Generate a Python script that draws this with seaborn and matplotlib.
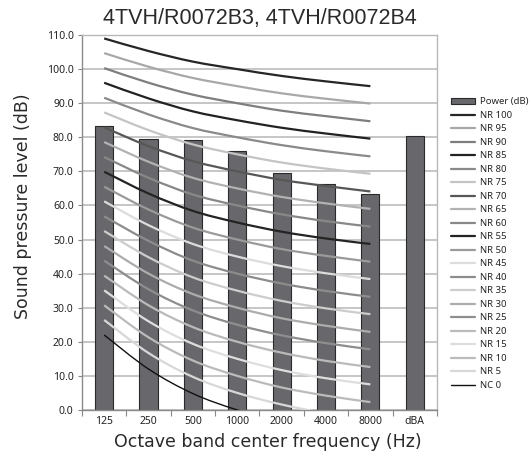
import numpy as np
import pandas as pd
import matplotlib
matplotlib.use("Agg")
import matplotlib.pyplot as plt
import seaborn as sns
from matplotlib.lines import Line2D
from matplotlib.patches import Patch, PathPatch
from matplotlib.path import Path

# ---- data ----
categories = ["125", "250", "500", "1000", "2000", "4000", "8000", "dBA"]
power_db = [83.3, 79.5, 79.2, 75.9, 69.4, 66.3, 63.5, 80.5]

band_labels = ["125", "250", "500", "1000", "2000", "4000", "8000"]
nr100 = [109.0, 105.3, 102.2, 100.0, 98.0, 96.4, 95.0]
nr95 = [104.7, 100.7, 97.4, 95.0, 92.9, 91.3, 89.9]
nr90 = [100.3, 96.0, 92.5, 90.0, 87.8, 86.2, 84.7]
nr85 = [96.0, 91.4, 87.6, 85.0, 82.8, 81.1, 79.6]
nr80 = [91.6, 86.7, 82.7, 80.0, 77.7, 75.9, 74.4]
nr75 = [87.3, 82.1, 77.9, 75.0, 72.6, 70.8, 69.3]
nr70 = [82.9, 77.4, 73.0, 70.0, 67.5, 65.7, 64.1]
nr65 = [78.6, 72.8, 68.1, 65.0, 62.5, 60.6, 59.0]
nr60 = [74.2, 68.1, 63.2, 60.0, 57.4, 55.4, 53.8]
nr55 = [69.9, 63.5, 58.4, 55.0, 52.3, 50.3, 48.7]
nr50 = [65.5, 58.8, 53.5, 50.0, 47.2, 45.2, 43.5]
nr45 = [61.2, 54.2, 48.7, 45.0, 42.2, 40.1, 38.4]
nr40 = [56.8, 49.6, 43.8, 40.0, 37.1, 34.9, 33.2]
nr35 = [52.5, 44.8, 38.9, 35.0, 32.0, 29.8, 28.1]
nr30 = [48.1, 40.0, 34.0, 30.0, 26.9, 24.7, 22.9]
nr25 = [43.8, 35.4, 29.2, 25.0, 21.9, 19.6, 17.8]
nr20 = [39.4, 30.7, 24.3, 20.0, 16.8, 14.4, 12.6]
nr15 = [35.1, 26.0, 19.4, 15.0, 11.7, 9.3, 7.5]
nr10 = [30.7, 21.3, 14.5, 10.0, 6.6, 4.2, 2.3]
nr5 = [26.4, 16.7, 9.7, 5.0, 1.6, -1.0, -2.9]
nc0 = [22.0, 12.0, 4.8, 0.0, -3.5, -6.1, -8.0]

curve_names = ["NR 100", "NR 95", "NR 90", "NR 85", "NR 80", "NR 75", "NR 70",
               "NR 65", "NR 60", "NR 55", "NR 50", "NR 45", "NR 40", "NR 35",
               "NR 30", "NR 25", "NR 20", "NR 15", "NR 10", "NR 5", "NC 0"]
curve_values = [nr100, nr95, nr90, nr85, nr80, nr75, nr70, nr65, nr60, nr55,
                nr50, nr45, nr40, nr35, nr30, nr25, nr20, nr15, nr10, nr5, nc0]
curve_colors = ["#262626", "#a8a8a8", "#7e7e7e", "#222222", "#8a8a8a", "#c4c4c4",
                "#575757", "#b2b2b2", "#888888", "#242424", "#9a9a9a", "#dcdcdc",
                "#8c8c8c", "#cdcdcd", "#acacac", "#8e8e8e", "#bababa", "#dedede",
                "#bbbbbb", "#d8d8d8", "#111111"]


def smooth_path(xs, ys):
    """Smoothed (Catmull-Rom style Bezier) path through the data points."""
    pts = np.column_stack([xs, ys]).astype(float)
    n = len(pts)
    verts = [pts[0]]
    codes = [Path.MOVETO]
    for i in range(n - 1):
        p0 = pts[i - 1] if i > 0 else pts[i]
        p1 = pts[i]
        p2 = pts[i + 1]
        p3 = pts[i + 2] if i + 2 < n else pts[i + 1]
        verts += [p1 + (p2 - p0) / 6.0, p2 - (p3 - p1) / 6.0, p2]
        codes += [Path.CURVE4] * 3
    return Path(verts, codes)


# ---- figure ----
sns.set_theme(style="white")
plt.rcParams['font.family'] = ['DejaVu Sans']
fig = plt.figure(figsize=(5.29, 4.55), dpi=100)
ax = fig.add_axes([0.155, 0.099, 0.671, 0.824])

df_bar = pd.DataFrame({"band": categories, "power": power_db})
sns.barplot(data=df_bar, x="band", y="power", order=categories, color="#68686c",
            saturation=1, width=0.41, edgecolor="#2a2a2a", linewidth=0.8, ax=ax, zorder=2)

line_handles = []
xpos = [categories.index(b) for b in band_labels]
for name, vals, col in zip(curve_names, curve_values, curve_colors):
    lw = 1.0 if name == "NC 0" else 1.6
    patch = PathPatch(smooth_path(xpos, vals), facecolor="none", edgecolor=col,
                      linewidth=lw, zorder=3, capstyle="butt", joinstyle="round")
    ax.add_patch(patch)
    line_handles.append(Line2D([0], [0], color=col, linewidth=lw))

ax.set_xlim(-0.5, len(categories) - 0.5)
ax.set_ylim(0, 110)
ax.set_yticks(np.arange(0, 111, 10))
ax.set_yticklabels([f"{v:.1f}" for v in np.arange(0, 111, 10)],
                   fontsize=7.5, family="Noto Sans", color="#222222")
ax.set_xticks(range(len(categories)))
ax.set_xticklabels(categories, fontsize=7.5, family="Noto Sans", color="#222222")
ax.set_xticks(np.arange(-0.5, len(categories), 1), minor=True)
ax.tick_params(axis="x", which="major", length=0, pad=4)
ax.tick_params(axis="x", which="minor", length=4, color="#888888", width=0.8, bottom=True)
ax.tick_params(axis="y", which="major", length=3, color="#888888", width=0.8, left=True, pad=3)

ax.grid(axis="y", color="#bcbcbc", linewidth=1.2, zorder=0)
ax.set_axisbelow(True)
for s in ["left", "bottom"]:
    ax.spines[s].set_color("#8a8a8a")
    ax.spines[s].set_linewidth(1.0)
for s in ["top", "right"]:
    ax.spines[s].set_color("#b8b8b8")
    ax.spines[s].set_linewidth(1.0)

ax.set_xlabel("Octave band center frequency (Hz)", fontsize=12.5, color="#2a2a2a")
ax.set_ylabel("Sound pressure level (dB)", fontsize=12.5, color="#2a2a2a")
ax.xaxis.set_label_coords(0.524, -0.062)
ax.yaxis.set_label_coords(-0.141, 0.543)
ax.set_title("4TVH/R0072B3, 4TVH/R0072B4", fontsize=15.5, family="Liberation Sans",
             color="#2a2a2a", pad=8)

handles = [Patch(facecolor="#68686c", edgecolor="#2a2a2a", linewidth=0.8)] + line_handles
labels = ["Power (dB)"] + curve_names
fig.legend(handles, labels, loc="upper left", bbox_to_anchor=(0.853, 0.786),
           frameon=False, prop={"family": "Noto Sans", "size": 6.9},
           handlelength=2.5, handleheight=0.6, handletextpad=0.5,
           labelspacing=0.47, borderpad=0, borderaxespad=0)

fig.savefig("out.png", dpi=100)
